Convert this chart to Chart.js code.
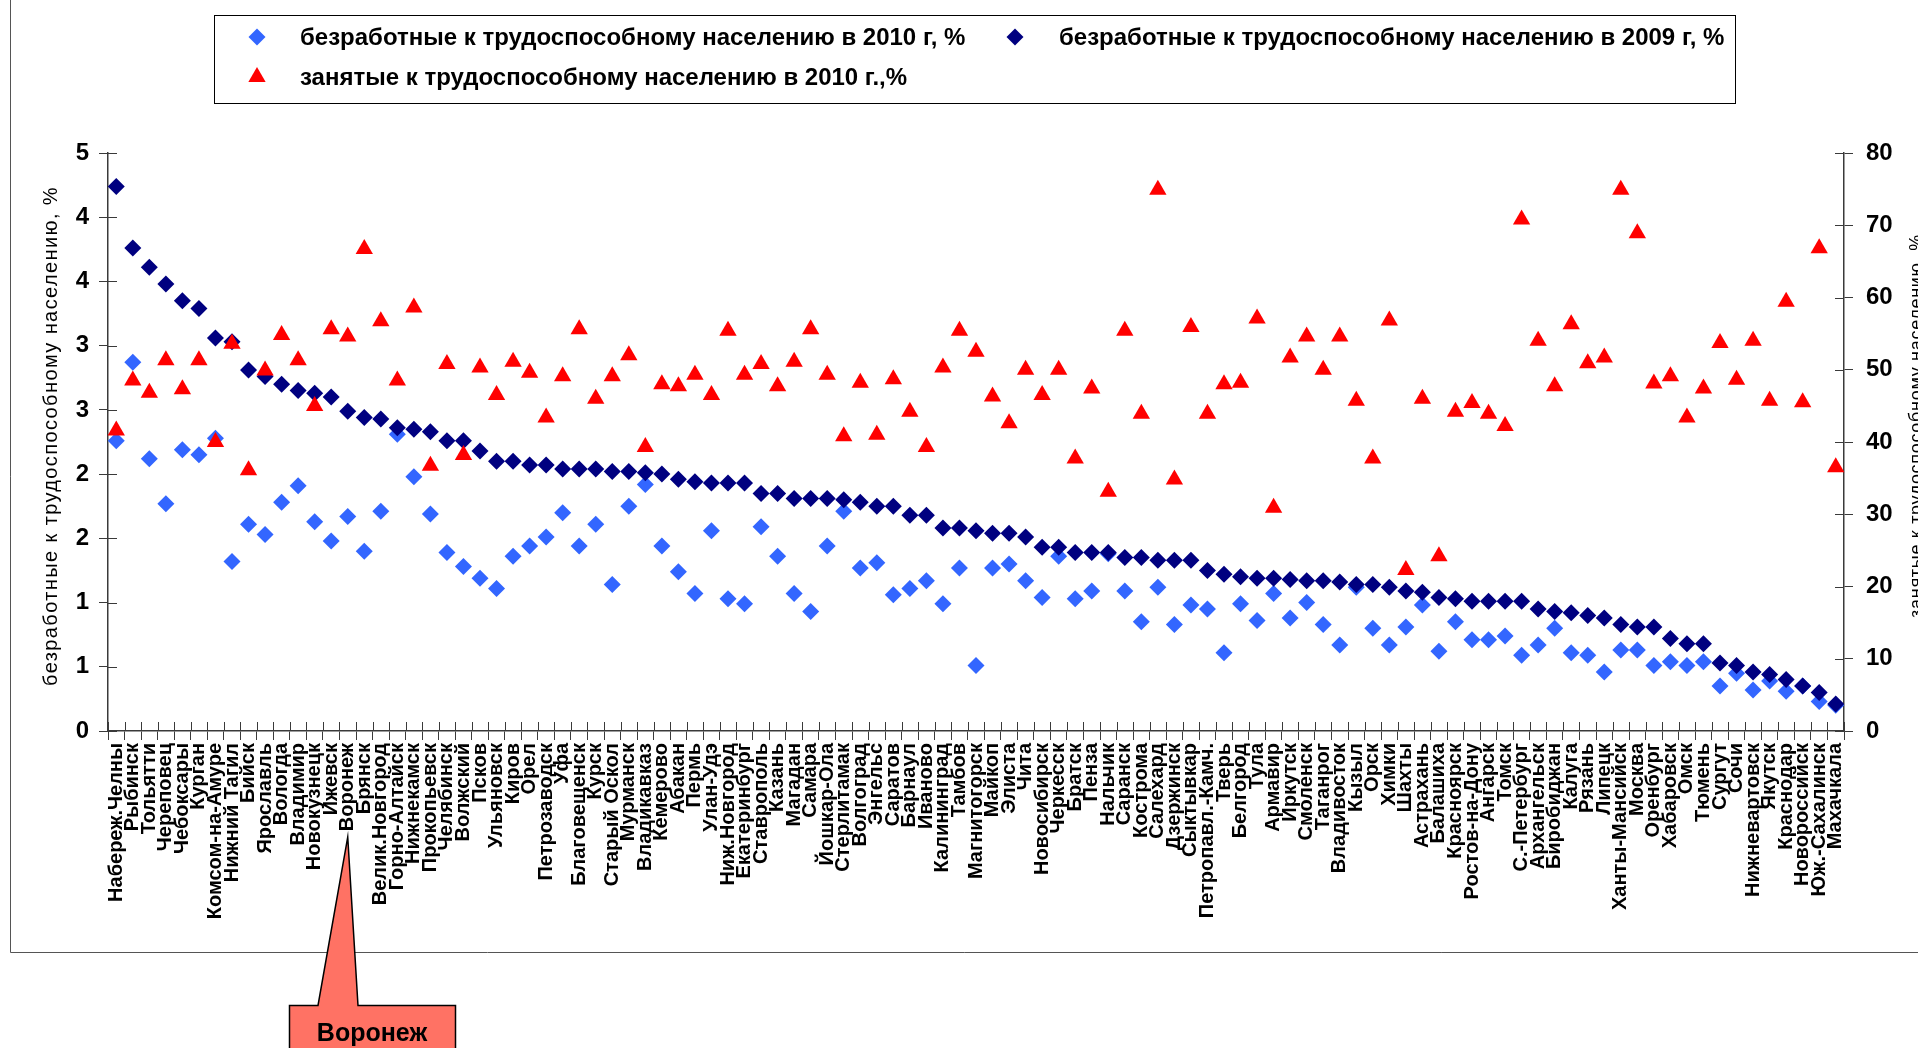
<!DOCTYPE html>
<html>
<head>
<meta charset="utf-8">
<script src="https://cdn.jsdelivr.net/npm/chart.js@4.4.1/dist/chart.umd.min.js"></script>
<style>
  html, body { margin: 0; padding: 0; background: #fff; }
  #wrap { position: relative; width: 1918px; height: 1048px; overflow: hidden; }
</style>
</head>
<body>
<div id="wrap"><canvas id="chart" width="1918" height="1048"></canvas></div>
<script>
// города, отсортированы по безработице 2009 г.
const cities = [
  'Набереж.Челны', 'Рыбинск', 'Тольятти', 'Череповец', 'Чебоксары', 'Курган', 'Комсом-на-Амуре',
  'Нижний Тагил', 'Бийск', 'Ярославль', 'Вологда', 'Владимир', 'Новокузнецк', 'Ижевск', 'Воронеж',
  'Брянск', 'Велик.Новгород', 'Горно-Алтайск', 'Нижнекамск', 'Прокопьевск', 'Челябинск', 'Волжский',
  'Псков', 'Ульяновск', 'Киров', 'Орел', 'Петрозаводск', 'Уфа', 'Благовещенск', 'Курск',
  'Старый Оскол', 'Мурманск', 'Владикавказ', 'Кемерово', 'Абакан', 'Пермь', 'Улан-Удэ',
  'Ниж.Новгород', 'Екатеринбург', 'Ставрополь', 'Казань', 'Магадан', 'Самара', 'Йошкар-Ола',
  'Стерлитамак', 'Волгоград', 'Энгельс', 'Саратов', 'Барнаул', 'Иваново', 'Калининград', 'Тамбов',
  'Магнитогорск', 'Майкоп', 'Элиста', 'Чита', 'Новосибирск', 'Черкесск', 'Братск', 'Пенза',
  'Нальчик', 'Саранск', 'Кострома', 'Салехард', 'Дзержинск', 'Сыктывкар', 'Петропавл.-Камч.',
  'Тверь', 'Белгород', 'Тула', 'Армавир', 'Иркутск', 'Смоленск', 'Таганрог', 'Владивосток',
  'Кызыл', 'Орск', 'Химки', 'Шахты', 'Астрахань', 'Балашиха', 'Красноярск', 'Ростов-на-Дону',
  'Ангарск', 'Томск', 'С.-Петербург', 'Архангельск', 'Биробиджан', 'Калуга', 'Рязань', 'Липецк',
  'Ханты-Мансийск', 'Москва', 'Оренбург', 'Хабаровск', 'Омск', 'Тюмень', 'Сургут', 'Сочи',
  'Нижневартовск', 'Якутск', 'Краснодар', 'Новороссийск', 'Юж.-Сахалинск', 'Махачкала'
];

// безработные к трудоспособному населению в 2010 г, %
const unemp2010 = [
  2.26, 2.87, 2.12, 1.77, 2.19, 2.15, 2.28, 1.32, 1.61, 1.53, 1.78, 1.91, 1.63, 1.48, 1.67,
  1.40, 1.71, 2.31, 1.98, 1.69, 1.39, 1.28, 1.19, 1.11, 1.36, 1.44, 1.51, 1.70, 1.44, 1.61,
  1.14, 1.75, 1.92, 1.44, 1.24, 1.07, 1.56, 1.03, 0.99, 1.59, 1.36, 1.07, 0.93, 1.44, 1.71,
  1.27, 1.31, 1.06, 1.11, 1.17, 0.99, 1.27, 0.51, 1.27, 1.30, 1.17, 1.04, 1.36, 1.03, 1.09,
  1.38, 1.09, 0.85, 1.12, 0.83, 0.98, 0.95, 0.61, 0.99, 0.86, 1.07, 0.88, 1.00, 0.83, 0.67,
  1.12, 0.80, 0.67, 0.81, 0.98, 0.62, 0.85, 0.71, 0.71, 0.74, 0.59, 0.67, 0.80, 0.61, 0.59,
  0.46, 0.63, 0.63, 0.51, 0.54, 0.51, 0.54, 0.35, 0.45, 0.32, 0.39, 0.31, 0.35, 0.23, 0.20
];

// безработные к трудоспособному населению в 2009 г, %
const unemp2009 = [
  4.24, 3.76, 3.61, 3.48, 3.35, 3.29, 3.06, 3.03, 2.81, 2.76, 2.70, 2.65, 2.63, 2.60, 2.49,
  2.44, 2.43, 2.36, 2.35, 2.33, 2.26, 2.26, 2.18, 2.10, 2.10, 2.07, 2.07, 2.04, 2.04, 2.04,
  2.02, 2.02, 2.01, 2.00, 1.96, 1.94, 1.93, 1.93, 1.93, 1.85, 1.85, 1.81, 1.81, 1.81, 1.80,
  1.78, 1.75, 1.75, 1.68, 1.68, 1.58, 1.58, 1.56, 1.54, 1.54, 1.51, 1.43, 1.43, 1.39, 1.39,
  1.39, 1.35, 1.35, 1.33, 1.33, 1.33, 1.25, 1.22, 1.20, 1.19, 1.19, 1.18, 1.17, 1.17, 1.16,
  1.14, 1.14, 1.12, 1.09, 1.08, 1.04, 1.03, 1.01, 1.01, 1.01, 1.01, 0.95, 0.93, 0.92, 0.90,
  0.88, 0.83, 0.81, 0.81, 0.72, 0.68, 0.68, 0.53, 0.51, 0.46, 0.44, 0.40, 0.35, 0.30, 0.21
];

// занятые к трудоспособному населению в 2010 г., %
const employed2010 = [
  41.6, 48.5, 46.8, 51.3, 47.3, 51.3, 40.0, 53.6, 36.1, 49.9, 54.8, 51.3, 45.0, 55.6, 54.6,
  66.7, 56.7, 48.5, 58.6, 36.7, 50.8, 38.2, 50.3, 46.5, 51.1, 49.6, 43.4, 49.1, 55.6, 46.0,
  49.1, 52.0, 39.3, 48.0, 47.7, 49.3, 46.5, 55.4, 49.3, 50.8, 47.7, 51.1, 55.6, 49.3, 40.8,
  48.2, 41.0, 48.7, 44.2, 39.3, 50.3, 55.4, 52.5, 46.3, 42.6, 50.0, 46.5, 50.0, 37.7, 47.4,
  33.1, 55.4, 43.9, 74.9, 34.8, 55.9, 43.9, 48.0, 48.2, 57.1, 30.9, 51.7, 54.6, 50.0, 54.6,
  45.7, 37.7, 56.8, 22.3, 46.0, 24.2, 44.2, 45.4, 43.9, 42.2, 70.8, 54.0, 47.7, 56.3, 50.9,
  51.7, 74.9, 68.9, 48.1, 49.1, 43.4, 47.4, 53.7, 48.6, 54.0, 45.7, 59.4, 45.5, 66.8, 36.5
];

// подписи левой оси (в Excel формат "0", шаг 0,5)
const leftTickLabels = ['0', '1', '1', '2', '2', '3', '3', '4', '4', '5'];

const seriesLabels = [
  'безработные к трудоспособному населению в 2010 г, %',
  'безработные к трудоспособному населению в 2009 г, %',
  'занятые к трудоспособному населению в 2010 г.,%'
];
const leftTitle = 'безработные к трудоспособному населению, %';
const rightTitle = 'занятые к трудоспособному населению, %';
const calloutCity = 'Воронеж';

const FONT = "'Liberation Sans', Arial, sans-serif";
Chart.defaults.font.family = FONT;
Chart.defaults.color = '#000';

const AXIS = '#3a3a3a';
const TICK = 9;

// легенда, рамка, подписи осей, выноска и внутренние половинки засечек
const decor = {
  id: 'decor',
  afterDraw(chart) {
    const ctx = chart.ctx;
    const area = chart.chartArea;
    const xs = chart.scales.x, yl = chart.scales.y, yr = chart.scales.y1;
    ctx.save();

    // внутренние засечки
    ctx.strokeStyle = AXIS;
    ctx.lineWidth = 1;
    ctx.beginPath();
    const n = cities.length;
    const step = (area.right - area.left) / n;
    for (let k = 0; k <= n; k++) {
      const x = Math.round(area.left + k * step) + 0.5;
      ctx.moveTo(x, area.bottom);
      ctx.lineTo(x, area.bottom - TICK);
    }
    yl.ticks.forEach((t, i) => {
      const y = Math.round(yl.getPixelForTick(i)) + 0.5;
      ctx.moveTo(area.left, y);
      ctx.lineTo(area.left + TICK, y);
    });
    yr.ticks.forEach((t, i) => {
      const y = Math.round(yr.getPixelForTick(i)) + 0.5;
      ctx.moveTo(area.right, y);
      ctx.lineTo(area.right - TICK, y);
    });
    ctx.stroke();

    // рамка области диаграммы
    ctx.strokeStyle = '#555';
    ctx.lineWidth = 1;
    ctx.beginPath();
    ctx.moveTo(10.5, 0);
    ctx.lineTo(10.5, 952.5);
    ctx.lineTo(1918, 952.5);
    ctx.stroke();

    // легенда
    ctx.strokeStyle = '#000';
    ctx.lineWidth = 1;
    ctx.strokeRect(214.5, 15.5, 1521, 88);
    const ds = chart.data.datasets;
    const items = [
      { d: ds[0], x: 257, y: 37, tx: 300 },
      { d: ds[1], x: 1015, y: 37, tx: 1059 },
      { d: ds[2], x: 257, y: 77, tx: 300 }
    ];
    ctx.font = 'bold 24px ' + FONT;
    ctx.textBaseline = 'middle';
    ctx.textAlign = 'left';
    items.forEach(it => {
      ctx.fillStyle = it.d.backgroundColor;
      ctx.strokeStyle = it.d.backgroundColor;
      Chart.helpers.drawPoint(ctx, { pointStyle: it.d.pointStyle, radius: it.d.pointRadius, rotation: 0, borderWidth: 0 }, it.x, it.y);
      ctx.fillStyle = '#000';
      ctx.fillText(it.d.label, it.tx, it.y + 1);
    });

    // подписи осей
    ctx.fillStyle = '#000';
    ctx.textAlign = 'center';
    ctx.save();
    ctx.translate(51, 436);
    ctx.rotate(-Math.PI / 2);
    ctx.font = '20px ' + FONT;
    ctx.letterSpacing = '1.4px';
    ctx.fillText(leftTitle, 0, 0);
    ctx.restore();
    ctx.save();
    ctx.translate(1917, 426);
    ctx.rotate(-Math.PI / 2);
    ctx.font = '18px ' + FONT;
    ctx.letterSpacing = '0.7px';
    ctx.fillText(rightTitle, 0, 0);
    ctx.restore();

    // выноска «Воронеж»
    const tipX = xs.getPixelForValue(cities.indexOf(calloutCity));
    ctx.beginPath();
    ctx.moveTo(289.5, 1005.5);
    ctx.lineTo(318, 1005.5);
    ctx.lineTo(tipX, 837);
    ctx.lineTo(358, 1005.5);
    ctx.lineTo(455.5, 1005.5);
    ctx.lineTo(455.5, 1060);
    ctx.lineTo(289.5, 1060);
    ctx.closePath();
    ctx.fillStyle = '#FF7264';
    ctx.fill();
    ctx.strokeStyle = '#000';
    ctx.lineWidth = 1.5;
    ctx.stroke();
    ctx.fillStyle = '#000';
    ctx.font = 'bold 25px ' + FONT;
    ctx.textAlign = 'center';
    ctx.textBaseline = 'middle';
    ctx.fillText(calloutCity, 372, 1034);

    ctx.restore();
  }
};

const tickFont = { size: 24, weight: 'bold' };

new Chart(document.getElementById('chart'), {
  type: 'line',
  data: {
    labels: cities,
    datasets: [
      {
        label: seriesLabels[0],
        data: unemp2010,
        yAxisID: 'y',
        showLine: false,
        pointStyle: 'rectRot',
        pointRadius: 8.5,
        pointBorderWidth: 0,
        backgroundColor: '#3366FF',
        borderColor: '#3366FF',
        order: 2
      },
      {
        label: seriesLabels[1],
        data: unemp2009,
        yAxisID: 'y',
        showLine: false,
        pointStyle: 'rectRot',
        pointRadius: 8.5,
        pointBorderWidth: 0,
        backgroundColor: '#000080',
        borderColor: '#000080',
        order: 1
      },
      {
        label: seriesLabels[2],
        data: employed2010,
        yAxisID: 'y1',
        showLine: false,
        pointStyle: 'triangle',
        pointRadius: 10,
        pointBorderWidth: 0,
        backgroundColor: '#FF0000',
        borderColor: '#FF0000',
        order: 0
      }
    ]
  },
  options: {
    responsive: false,
    animation: false,
    devicePixelRatio: 1,
    layout: { padding: { top: 153, left: 0, right: 0, bottom: 0 } },
    plugins: {
      legend: { display: false },
      tooltip: { enabled: false }
    },
    scales: {
      x: {
        offset: true,
        grid: { offset: true, drawOnChartArea: false, tickLength: TICK, color: AXIS },
        border: { color: AXIS, width: 1.5 },
        ticks: {
          autoSkip: false,
          maxRotation: 90,
          minRotation: 90,
          padding: 3,
          font: { size: 20, weight: 'bold' }
        },
        afterFit: function (scale) { scale.height = 317; }
      },
      y: {
        position: 'left',
        min: 0,
        max: 4.5,
        grid: { drawOnChartArea: false, tickLength: TICK, color: AXIS },
        border: { color: AXIS, width: 1.5 },
        ticks: {
          stepSize: 0.5,
          padding: 10,
          font: tickFont,
          callback: function (value, index) { return leftTickLabels[index]; }
        },
        afterFit: function (scale) { scale.width = 108; }
      },
      y1: {
        position: 'right',
        min: 0,
        max: 80,
        grid: { drawOnChartArea: false, tickLength: TICK, color: AXIS },
        border: { color: AXIS, width: 1.5 },
        ticks: { stepSize: 10, padding: 13, font: tickFont },
        afterFit: function (scale) { scale.width = 74; }
      }
    }
  },
  plugins: [decor]
});
</script>
</body>
</html>
